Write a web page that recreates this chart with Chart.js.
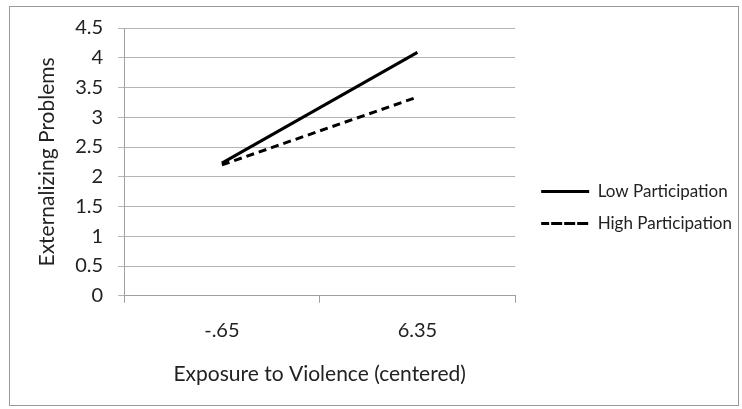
<!DOCTYPE html>
<html>
<head>
<meta charset="utf-8">
<script src="https://cdn.jsdelivr.net/npm/chart.js@4"></script>
<style>
  html, body { margin: 0; padding: 0; background: #fff; }
  #wrap { width: 742px; height: 409px; }
</style>
</head>
<body>
<div id="wrap"><canvas id="chart" width="742" height="409"></canvas></div>
<script>
const categories = ['-.65', '6.35'];
const lowParticipation = [2.23, 4.09];
const highParticipation = [2.2, 3.34];

const fontFamily = 'Lato, "Open Sans", sans-serif';

// grey frame round the whole chart, as in the Excel export
const frame = {
  id: 'frame',
  beforeDraw(chart) {
    const c = chart.ctx;
    c.save();
    c.fillStyle = '#fff';
    c.fillRect(0, 0, chart.width, chart.height);
    c.strokeStyle = '#9a9a9a';
    c.lineWidth = 1;
    c.strokeRect(9.5, 6.5, 729, 399);
    c.restore();
  }
};

new Chart(document.getElementById('chart').getContext('2d'), {
  type: 'line',
  plugins: [frame],
  data: {
    labels: categories,
    datasets: [
      {
        label: 'Low Participation',
        data: lowParticipation,
        borderColor: '#000',
        backgroundColor: 'rgba(0,0,0,0)',
        borderWidth: 3,
        pointRadius: 0,
        tension: 0
      },
      {
        label: 'High Participation',
        data: highParticipation,
        borderColor: '#000',
        backgroundColor: 'rgba(0,0,0,0)',
        borderWidth: 3,
        borderDash: [8, 5],
        pointRadius: 0,
        tension: 0
      }
    ]
  },
  options: {
    responsive: false,
    animation: false,
    layout: {
      padding: { left: 22, right: 0, top: 28, bottom: 22 }
    },
    scales: {
      x: {
        offset: true,
        grid: {
          offset: true,
          drawOnChartArea: false,
          tickLength: 7,
          color: '#a0a0a0'
        },
        border: { color: '#a0a0a0' },
        ticks: {
          color: '#222',
          padding: 16,
          font: { family: fontFamily, size: 20 }
        },
        title: {
          display: true,
          text: 'Exposure to Violence (centered)',
          color: '#222',
          padding: { top: 3, bottom: 0 },
          font: { family: fontFamily, size: 21 }
        }
      },
      y: {
        min: 0,
        max: 4.5,
        ticks: {
          stepSize: 0.5,
          color: '#222',
          padding: 15,
          font: { family: fontFamily, size: 20 },
          callback: v => String(v)
        },
        grid: {
          color: '#b4b4b4',
          tickLength: 6
        },
        border: { color: '#a0a0a0' },
        title: {
          display: true,
          text: 'Externalizing Problems',
          color: '#222',
          padding: { top: 13, bottom: 0 },
          font: { family: fontFamily, size: 21 }
        }
      },
      // empty axis used only as a gap between plot and legend
      gap: {
        type: 'linear',
        position: 'right',
        display: true,
        grid: { display: false },
        border: { display: false },
        ticks: { display: false },
        afterFit: scale => { scale.width = 11; }
      }
    },
    plugins: {
      legend: {
        position: 'right',
        maxWidth: 260,
        labels: {
          boxWidth: 48,
          boxHeight: 0,
          padding: 15,
          color: '#222',
          font: { family: fontFamily, size: 17 }
        }
      },
      tooltip: { enabled: false }
    }
  }
});
</script>
</body>
</html>
